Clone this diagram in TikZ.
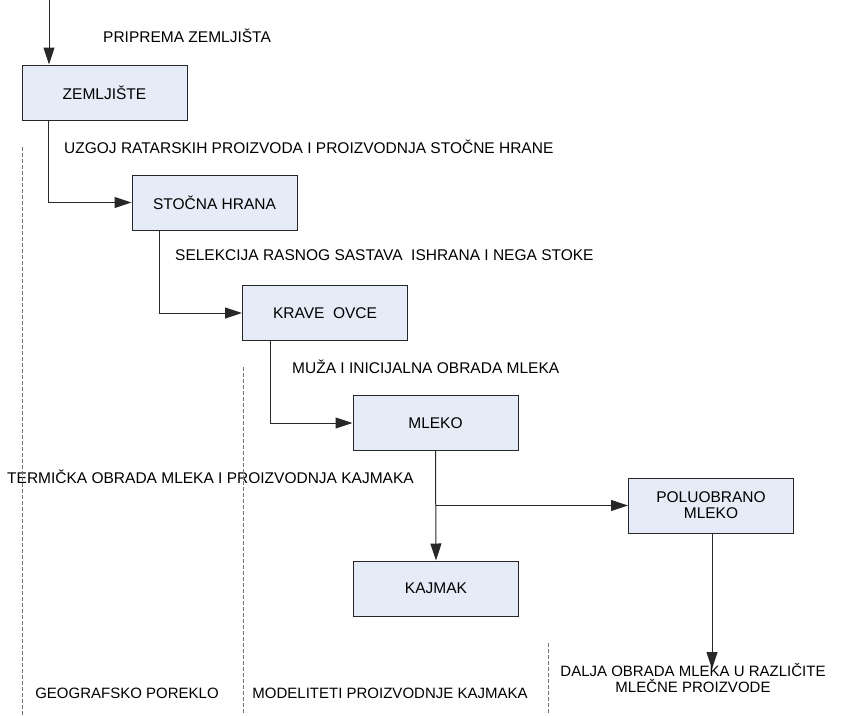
\documentclass[tikz,border=0pt]{standalone}
\usepackage{fontspec}
\setmainfont{Liberation Sans}
\usetikzlibrary{arrows.meta,positioning,calc}
\definecolor{boxfill}{RGB}{230,236,247}
\definecolor{linegray}{RGB}{40,40,40}
\tikzset{
  flow/box/.style={draw=black!85, fill=boxfill, line width=1pt, minimum width=165pt, minimum height=55pt, inner sep=0pt, align=center, font=\fontsize{15.5}{18}\selectfont},
  flow/label/.style={anchor=west, inner sep=0pt, font=\fontsize{15.5}{18}\selectfont},
  flow/lane/.style={anchor=base, inner sep=0pt, align=center, font=\fontsize{15}{18}\selectfont},
  flow/arrow/.style={draw=linegray, line width=1pt, -{Triangle[length=17pt,width=11pt]}},
  flow/divider/.style={draw=black!55, line width=0.8pt, dash pattern=on 4pt off 2pt}
}
\begin{document}
\begin{tikzpicture}[x=1pt, y=-1pt]
  \useasboundingbox (0,0) rectangle (845,715);

  \node[flow/box] (zem) at (104.5,92.5) {ZEMLJIŠTE};
  \node[flow/box] (stoc) at (214.5,202.5) {STOČNA HRANA};
  \node[flow/box] (krave) at (325,313) {KRAVE\ \ OVCE};
  \node[flow/box] (mleko) at (435.5,423) {MLEKO};
  \node[flow/box] (kajmak) at (436,588.5) {KAJMAK};
  \node[flow/box, text width=150pt] (polu) at (711,505.5) {POLUOBRANO\\[-2pt]MLEKO};

  \node[flow/label] (prip) at (103,36) {PRIPREMA ZEMLJIŠTA};
  \node[flow/label] (uzgoj) at (64,147) {UZGOJ RATARSKIH PROIZVODA I PROIZVODNJA STOČNE HRANE};
  \node[flow/label] (sel) at (175,255) {SELEKCIJA RASNOG SASTAVA\ \ ISHRANA I NEGA STOKE};
  \node[flow/label] (muza) at (292,367) {MUŽA I INICIJALNA OBRADA MLEKA};
  \node[flow/label] (term) at (7,477) {TERMIČKA OBRADA MLEKA I PROIZVODNJA KAJMAKA};

  \node[flow/lane] (geo) at (127,698) {GEOGRAFSKO POREKLO};
  \node[flow/lane] (model) at (390,698) {MODELITETI PROIZVODNJE KAJMAKA};
  \node[flow/lane] (dalja) at (693,692) {DALJA OBRADA MLEKA U RAZLIČITE\\[-2pt]MLEČNE PROIZVODE};

  \coordinate (start) at (49,0);
  \coordinate (out) at (712,669);

  \draw[flow/arrow] (start) -- (start |- zem.north);
  \draw[flow/arrow] ([xshift=27pt]zem.south west) |- (stoc.west);
  \draw[flow/arrow] ([xshift=28pt]stoc.south west) |- (krave.west);
  \draw[flow/arrow] ([xshift=28pt]krave.south west) |- (mleko.west);
  \draw[flow/arrow] (mleko.south) -- (kajmak.north);
  \draw[flow/arrow] (mleko.south |- polu.west) -- (polu.west);
  \draw[flow/arrow] (polu.south -| out) -- (out);

  \draw[flow/divider] (22,147) -- (22,715);
  \draw[flow/divider] (243,367) -- (243,715);
  \draw[flow/divider] (548,643) -- (548,715);
\end{tikzpicture}
\end{document}
